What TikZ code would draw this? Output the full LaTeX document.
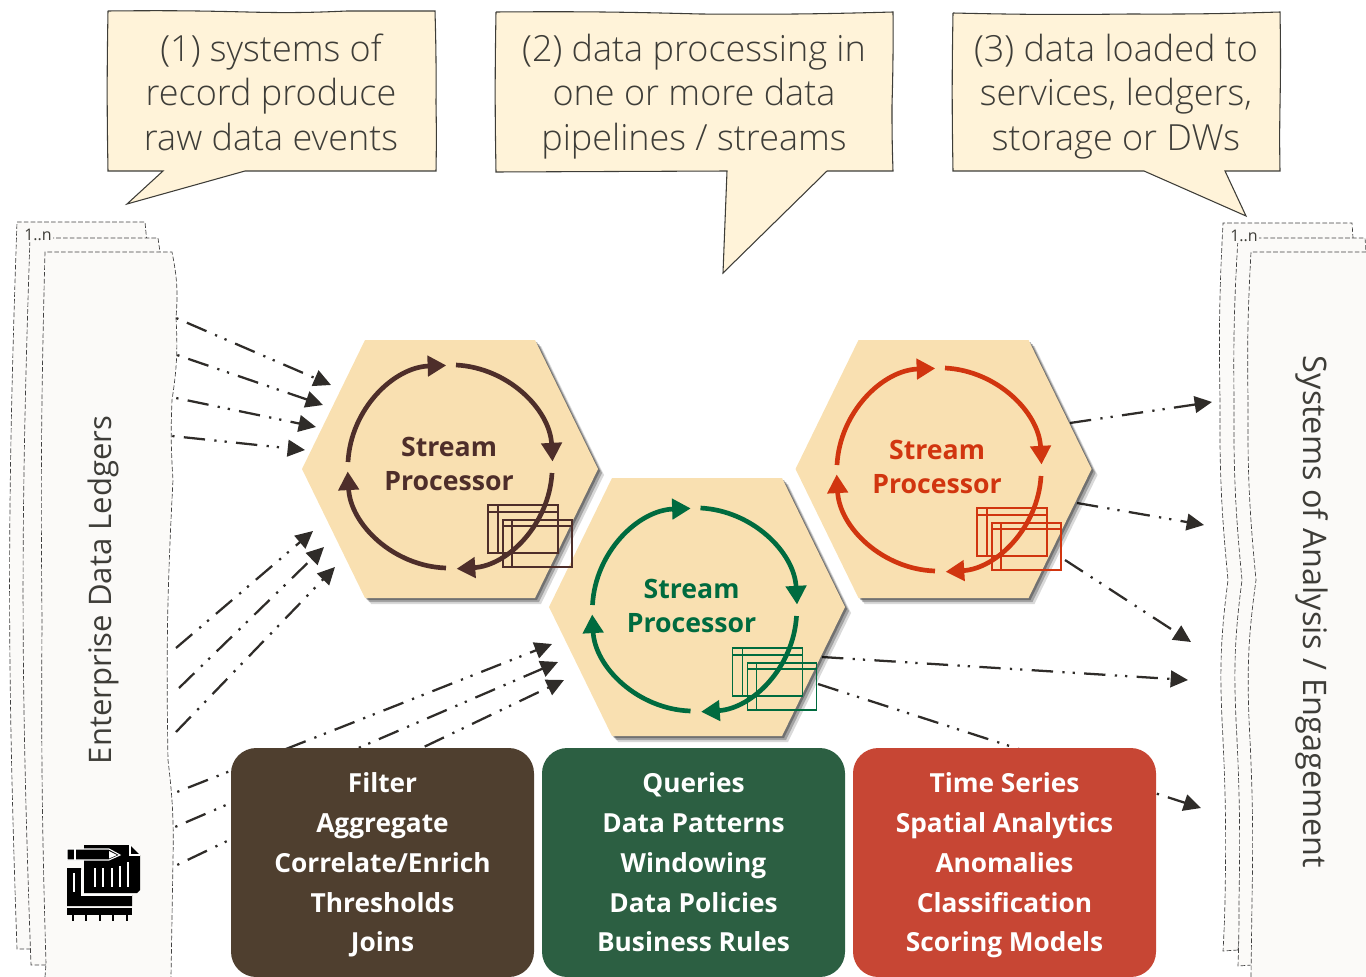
\documentclass[tikz,border=0pt]{standalone}
\usepackage{fontspec}
\setmainfont{Open Sans Light}
\newfontfamily\boldfont{Open Sans}
\usetikzlibrary{arrows.meta,calc,shadows}
\pgfdeclarelayer{background layer}
\pgfsetlayers{background layer,main}
\definecolor{ink}{HTML}{3E3D38}
\definecolor{note}{HTML}{FFF3D9}
\definecolor{sheet}{HTML}{FBFAF8}
\definecolor{sand}{HTML}{F9E0B1}
\definecolor{flowink}{HTML}{2F2C29}
\definecolor{brownink}{HTML}{4E2E2A}
\definecolor{greenink}{HTML}{006B3F}
\definecolor{redink}{HTML}{D1350F}
\definecolor{brownbox}{HTML}{4F3F2F}
\definecolor{greenbox}{HTML}{2C5F42}
\definecolor{redbox}{HTML}{C74634}
\newcommand{\topline}[1]{\rule{0pt}{#1}}
\newcommand{\lowline}[1]{\rule[-#1]{0pt}{#1}}
\newcommand{\hexplate}[1]{%
\path [hex] ($(#1)+(-148,0)$) -- ($(#1)+(-85,-129)$) -- ($(#1)+(85,-129)$) -- ($(#1)+(148,0)$) -- ($(#1)+(85,129)$) -- ($(#1)+(-85,129)$) -- cycle;
}
\newcommand{\streamcycle}[2]{%
\draw [cyclearrow,#2] ($(#1)+(-102,-5)$) arc [start angle=177,delta angle=-85,radius=76.5pt];
\draw [cyclearrow,#2] ($(#1)+(6,-102)$) arc [start angle=87,delta angle=-84,radius=76.5pt];
\draw [cyclearrow,#2] ($(#1)+(102,6)$) arc [start angle=-3.4,delta angle=-83,radius=76.5pt];
\draw [cyclearrow,#2] ($(#1)+(-4,101)$) arc [start angle=-92,delta angle=-85,radius=76.5pt];
\draw [window,#2] ($(#1)+(38,38)$) rectangle ($(#1)+(108,86)$);
\draw [window,#2] ($(#1)+(48,38)$) -- ($(#1)+(48,86)$) ($(#1)+(38,45)$) -- ($(#1)+(108,45)$);
\draw [window,#2] ($(#1)+(53,53)$) rectangle ($(#1)+(122,100)$);
\draw [window,#2] ($(#1)+(62,53)$) -- ($(#1)+(62,100)$) ($(#1)+(53,59)$) -- ($(#1)+(122,59)$);
}
\begin{document}
\begin{tikzpicture}[x=0.75pt,y=-0.75pt]
\tikzstyle{notebox}=[draw=ink,fill=note,line width=0.8pt]
\tikzstyle{notetext}=[text=ink,align=center,font=\fontsize{27pt}{33.4pt}\selectfont,inner sep=0pt]
\tikzstyle{doc}=[draw=black!75,fill=sheet,line width=0.5pt,dash pattern=on 3.5pt off 1.6pt]
\tikzstyle{doctext}=[text=ink,inner sep=0pt]
\tikzstyle{count}=[text=ink,fill=sheet,font=\boldfont\fontsize{12pt}{14pt}\selectfont,inner sep=0.6pt]
\tikzstyle{flow}=[draw=flowink,line width=1.7pt,dash pattern=on 16pt off 7pt on 1.7pt off 6pt on 1.7pt off 7pt,-{Triangle[length=13pt,width=12.5pt]}]
\tikzstyle{flowdot}=[flow,dash phase=30.5pt]
\tikzstyle{hex}=[fill=sand,
  drop shadow={shadow xshift=1.5pt,shadow yshift=-1.5pt,opacity=.3,fill=black},
  drop shadow={shadow xshift=3pt,shadow yshift=-3pt,opacity=.25,fill=black},
  drop shadow={shadow xshift=4.5pt,shadow yshift=-4.5pt,opacity=.15,fill=black}]
\tikzstyle{hextext}=[align=center,inner sep=0pt,font=\boldfont\bfseries\fontsize{20pt}{25.5pt}\selectfont]
\tikzstyle{cyclearrow}=[line width=3.5pt,-{Triangle[length=14pt,width=15pt]}]
\tikzstyle{window}=[line width=1.1pt]
\tikzstyle{listbox}=[rounded corners=19pt,minimum width=227.25pt,minimum height=171.75pt,inner sep=0pt,text=white,align=center,font=\boldfont\bfseries\fontsize{19.7pt}{29.8pt}\selectfont]
\useasboundingbox (0,0) rectangle (1366,977);

\begin{pgfonlayer}{background layer}
% left stack
\draw [doc] (31,949) -- (17,949) to[bend left=2] (17,222) -- (145,222) -- (146.5,238) -- (160,300) -- (31,949);
\draw [doc] (46,965) -- (31,965) to[bend left=2] (30,238) -- (158,238) -- (160,252) -- (170,300) -- (46,965);
\draw [doc] (45,977) -- (46,964) to[bend left=1] (42,620) to[bend left=1] (45,252) -- (172,252) to[bend left=8] (176,318) to[bend left=6] (172,400) to[bend right=3] (173,480) to[bend right=2] (168,760) to[bend left=4] (173,860) -- (171,977) -- (171,995) -- (45,995) -- cycle;
\node [count] (n1) at (38,235) {1..n};
% right stack
\draw [doc] (1238,950) -- (1223,951) to[bend right=1] (1225,900) to[bend right=2] (1222,720) to[bend left=5] (1228,580) to[bend left=3] (1220,400) to[bend left=2] (1223,223) -- (1352,223) -- (1353,238) -- (1300,300) -- (1238,950);
\draw [doc] (1252,965) -- (1238,966) to[bend right=1] (1239,900) to[bend right=2] (1236,720) to[bend left=5] (1242,580) to[bend left=3] (1234,400) to[bend left=2] (1238,238) -- (1365,238) -- (1366,252) -- (1300,300) -- (1252,965);
\draw [doc] (1251,977) -- (1252,900) to[bend right=2] (1249,720) to[bend left=5] (1256,580) to[bend left=3] (1248,400) to[bend left=2] (1251,252) -- (1385,252) -- (1385,995) -- (1251,995) -- cycle;
\node [count] (n2) at (1244,236) {1..n};

% flows in
\coordinate (s1) at (176,318); \coordinate (t1) at (331,385);
\coordinate (s2) at (177,355); \coordinate (t2) at (323,405);
\coordinate (s3) at (176,398); \coordinate (t3) at (316,427);
\coordinate (s4) at (172,436); \coordinate (t4) at (305,450);
\coordinate (s5) at (176,648); \coordinate (t5) at (313,531);
\coordinate (s6) at (179,688); \coordinate (t6) at (324,547);
\coordinate (s7) at (176,732); \coordinate (t7) at (335,567);
\coordinate (s8) at (177,792); \coordinate (t8) at (552,644);
\coordinate (s9) at (175,827); \coordinate (t9) at (558,662);
\coordinate (s10) at (177,865); \coordinate (t10) at (564,680);
\draw [flowdot] (s1) -- (t1);
\draw [flowdot] (s2) -- (t2);
\draw [flowdot] (s3) -- (t3);
\draw [flowdot] (s4) -- (t4);
\draw [flow] (s5) -- (t5);
\draw [flow] (s6) -- (t6);
\draw [flow] (s7) -- (t7);
\draw [flowdot] (s8) -- (t8);
\draw [flowdot] (s9) -- (t9);
\draw [flowdot] (s10) -- (t10);

% flows out
\coordinate (s11) at (1070,423); \coordinate (t11) at (1212,402);
\coordinate (s12) at (1077,503); \coordinate (t12) at (1204,525);
\coordinate (s13) at (1065,560); \coordinate (t13) at (1191,642);
\coordinate (s14) at (822,657); \coordinate (t14) at (1188,680);
\coordinate (s15) at (818,684); \coordinate (t15) at (1201,808);
\draw [flow] (s11) -- (t11);
\draw [flow] (s12) -- (t12);
\draw [flow] (s13) -- (t13);
\draw [flow] (s14) -- (t14);
\draw [flow] (s15) -- (t15);
\end{pgfonlayer}

\node [doctext,rotate=90,font=\boldfont\fontsize{23.3pt}{30pt}\selectfont] (led) at (103,590) {Enterprise Data Ledgers};
\node [doctext,rotate=-90,font=\boldfont\fontsize{24.3pt}{30pt}\selectfont] (sys) at (1312,612) {Systems of Analysis / Engagement};

% callouts
\draw [notebox] (108,11) to[bend left=1] (247,12) to[bend right=2] (347,11) -- (435,11) to[bend left=1] (436,103) to[bend left=1] (436,171) -- (245,171) -- (127,204) -- (163,171) -- (108,171) to[bend left=1] (108,11);
\draw [notebox] (496,12) to[bend left=1] (700,14) to[bend right=1] (893,12) to[bend left=1] (892,105) to[bend right=1] (893,171) -- (827,171) -- (723,273) -- (727,171) -- (496,172) to[bend left=1] (496,12);
\draw [notebox] (953,13) to[bend right=1] (1130,14) to[bend right=1] (1280,12) to[bend left=1] (1280,105) to[bend right=1] (1280,171) -- (1225,171) -- (1246,216) -- (1144,171) -- (953,171) to[bend left=1] (953,13);
\node [notetext] (c1) at (271,94.2) {\topline{24pt}(1) systems of\\record produce\\raw data events\lowline{7pt}};
\node [notetext] (c2) at (694,94.2) {\topline{24pt}(2) data processing in\\one or more data\\pipelines / streams\lowline{7pt}};
\node [notetext] (c3) at (1116,94.2) {\topline{24pt}(3) data loaded to\\services, ledgers,\\storage or DWs\lowline{7pt}};

% processors
\coordinate (h1) at (450,469);
\coordinate (h3) at (943.5,469);
\coordinate (h2) at (697,607);
\hexplate{h1}
\hexplate{h3}
\hexplate{h2}
\coordinate (o1) at (450,467);
\coordinate (o2) at (694.5,610);
\coordinate (o3) at (939,470);
\streamcycle{o1}{brownink}
\streamcycle{o2}{greenink}
\streamcycle{o3}{redink}
\node [hextext,text=brownink] (p1) at ($(o1)+(-1,-3)$) {Stream\\Processor};
\node [hextext,text=greenink] (p2) at ($(o2)+(-3,-4)$) {Stream\\Processor};
\node [hextext,text=redink] (p3) at ($(o3)+(-2,-3)$) {Stream\\Processor};

% lists
\node [listbox,fill=brownbox] (b1) at (382.5,862.5) {\topline{20.86pt}Filter\\Aggregate\\Correlate/Enrich\\Thresholds\\Joins\lowline{5.94pt}};
\node [listbox,fill=greenbox] (b2) at (693.5,862.5) {\topline{20.86pt}Queries\\Data Patterns\\Windowing\\Data Policies\\Business Rules\lowline{5.94pt}};
\node [listbox,fill=redbox] (b3) at (1004.5,862.5) {\topline{20.86pt}Time Series\\Spatial Analytics\\Anomalies\\Classification\\Scoring Models\lowline{5.94pt}};

% ledger icon
\fill [black] (84,845) -- (130,845) -- (140,855) -- (140,890) -- (137,893) -- (84,893) -- cycle;
\fill [black] (67,868) -- (81,868) -- (81,895) -- (132,895) -- (132,906) -- (67,906) -- cycle;
\fill [black] (67,908) -- (132,908) -- (132,915) -- (67,915) -- cycle;
\draw [white,line width=1pt] (81.5,870) -- (81.5,895) -- (132,895);
\draw [white,line width=1.4pt] (74,873) -- (74,892);
\draw [white,line width=1.4pt] (95,868) -- (95,887);
\draw [white,line width=1.4pt] (103,868) -- (103,887);
\draw [white,line width=1.4pt] (112,868) -- (112,887);
\draw [white,line width=1.4pt] (120,866) -- (120,887);
\draw [white,line width=1.4pt] (128,862) -- (128,887);
\draw [white,line width=0.8pt] (130,845) -- (130,855) -- (140,855);
\fill [black,draw=white,line width=0.8pt] (67,849) -- (109,849) -- (120,855) -- (109,860) -- (67,860) -- cycle;
\fill [white] (109,851) -- (117,855) -- (109,858.5) -- cycle;
\draw [white,line width=0.8pt] (75,849) -- (75,860);
\draw [black,line width=1.8pt] (73,914) -- (73,921);
\draw [black,line width=1.8pt] (86,914) -- (86,921);
\draw [black,line width=1.8pt] (100,914) -- (100,921);
\draw [black,line width=1.8pt] (113,914) -- (113,921);
\draw [black,line width=1.8pt] (127,914) -- (127,921);
\end{tikzpicture}
\end{document}
